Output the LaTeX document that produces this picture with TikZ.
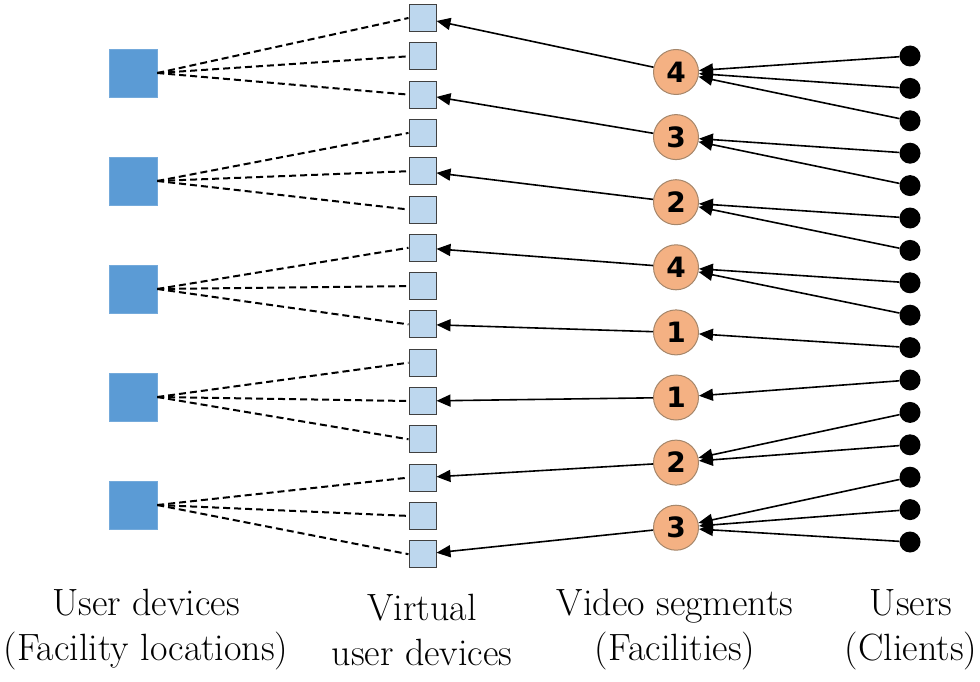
\documentclass[tikz,border=0pt]{standalone}
\usepackage{fontspec}
\newfontfamily\segfont{DejaVu Sans}
\usetikzlibrary{arrows.meta}

\definecolor{devblue}{HTML}{5B9BD5}
\definecolor{vdevblue}{HTML}{BDD7EE}
\definecolor{segorange}{HTML}{F4B183}
\definecolor{segborder}{HTML}{A5866A}

\begin{document}
\begin{tikzpicture}[
  x=1pt, y=-1pt,
  userdev/.style  = {rectangle, fill=devblue, draw=devblue!85!white,
                     minimum size=48pt, inner sep=0pt},
  virtdev/.style  = {rectangle, fill=vdevblue, draw=black!75, line width=1pt,
                     minimum size=27pt, inner sep=0pt},
  segment/.style  = {circle, fill=segorange, draw=segborder, line width=1pt,
                     minimum size=45pt, inner sep=0pt,
                     font=\segfont\bfseries\fontsize{28}{28}\selectfont},
  client/.style   = {circle, fill=black, minimum size=21pt, inner sep=0pt},
  arrow/.style    = {-{Triangle[length=14pt, width=12pt]}, line width=1.6pt},
  dashline/.style = {dash pattern=on 7pt off 4pt, line width=2pt},
  caption/.style  = {align=center, font=\fontsize{38}{45}\selectfont}
]
\useasboundingbox (0,0) rectangle (980,682);

% ── User devices (facility locations) ────────────────────────────────────────
\foreach \i in {1,...,5}
  \node[userdev] (ud\i) at (133, {73+108*(\i-1)}) {};

% ── Virtual user devices ─────────────────────────────────────────────────────
\foreach \i in {1,...,15}
  \node[virtdev] (vud\i) at (422.5, {18+38.3*(\i-1)}) {};

% ── Video segments (facilities) ──────────────────────────────────────────────
\foreach \lbl [count=\i] in {4,3,2,4,1,1,2,3}
  \node[segment] (seg\i) at (676, {72+65.1*(\i-1)}) {\lbl};

% ── Users (clients) ──────────────────────────────────────────────────────────
\foreach \i in {1,...,16}
  \node[client] (usr\i) at (910, {56+32.4*(\i-1)}) {};

% ── Device → virtual devices (dashed) ────────────────────────────────────────
\foreach \d/\a/\b/\c in {1/1/2/3, 2/4/5/6, 3/7/8/9, 4/10/11/12, 5/13/14/15} {
  \draw[dashline] (ud\d.east) -- (vud\a.west);
  \draw[dashline] (ud\d.east) -- (vud\b.west);
  \draw[dashline] (ud\d.east) -- (vud\c.west);
}

% ── Segment → virtual device ─────────────────────────────────────────────────
\foreach \s/\v in {1/1, 2/3, 3/5, 4/7, 5/9, 6/11, 7/13, 8/15}
  \draw[arrow] (seg\s) -- (vud\v);

% ── User → segment requests ──────────────────────────────────────────────────
\foreach \u/\s in {1/1, 2/1, 3/1, 4/2, 5/2, 6/3, 7/3, 8/4, 9/4, 10/5,
                   11/6, 12/7, 13/7, 14/8, 15/8, 16/8}
  \draw[arrow] (usr\u) -- (seg\s);

% ── Column captions ──────────────────────────────────────────────────────────
\node[caption] (capud)  at (146, 630) {User devices\\(Facility locations)};
\node[caption] (capvud) at (422, 630) {Virtual\\user devices};
\node[caption] (capseg) at (675, 630) {Video segments\\(Facilities)};
\node[caption] (capusr) at (911, 630) {Users\\(Clients)};

\end{tikzpicture}
\end{document}
